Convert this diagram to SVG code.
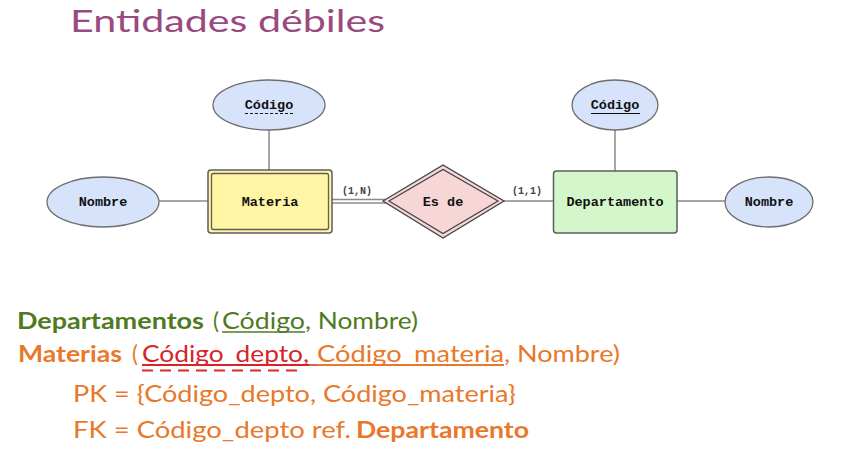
<svg xmlns="http://www.w3.org/2000/svg" width="841" height="450" viewBox="0 0 841 450">
<style>
.attr{fill:#d6e3fb;stroke:#6e6e6e;stroke-width:1.3}
.lbl{font-family:"Liberation Mono","DejaVu Sans Mono",monospace;font-weight:bold;font-size:13.5px;fill:#111;text-anchor:middle}
.card{font-family:"Liberation Mono","DejaVu Sans Mono",monospace;font-weight:bold;font-size:10px;fill:#444}
.conn{stroke:#8a8a8a;stroke-width:1.5;fill:none}
.rel{font-family:"Lato","Noto Sans",sans-serif;font-size:22.5px}
</style>
<rect width="841" height="450" fill="#ffffff"/>
<text x="70" y="32" font-family="Lato,'Noto Sans',sans-serif" font-size="31" fill="#9a4a7f" textLength="315" lengthAdjust="spacingAndGlyphs">Entidades débiles</text>

<g id="connectors">
<line class="conn" x1="269" y1="130" x2="269" y2="170"/>
<line class="conn" x1="159" y1="201" x2="208" y2="201"/>
<line class="conn" x1="332" y1="199.5" x2="386" y2="199.5"/>
<line class="conn" x1="332" y1="203" x2="386" y2="203"/>
<line class="conn" x1="504" y1="201" x2="554" y2="201"/>
<line class="conn" x1="615" y1="130" x2="615" y2="171"/>
<line class="conn" x1="677" y1="201" x2="725" y2="201"/>
<text class="card" x="342" y="194">(1,N)</text>
<text class="card" x="512" y="194">(1,1)</text>
</g>

<g id="codigo-materia">
<ellipse class="attr" cx="269" cy="105" rx="56" ry="25"/>
<text class="lbl" x="269" y="109">Código</text>
<line x1="245" y1="113.5" x2="294" y2="113.5" stroke="#111" stroke-width="1" stroke-dasharray="3,2"/>
</g>
<g id="nombre-materia">
<ellipse class="attr" cx="103" cy="202" rx="56" ry="25"/>
<text class="lbl" x="103" y="206">Nombre</text>
</g>
<g id="materia">
<rect x="208" y="170" width="124" height="63" rx="3" fill="#fff5a5" stroke="#5e5e5e" stroke-width="1.5"/>
<rect x="211.5" y="173.5" width="117" height="56" rx="2" fill="none" stroke="#5e5e5e" stroke-width="1.3"/>
<text class="lbl" x="270" y="206">Materia</text>
</g>
<g id="es-de">
<polygon points="383,201 443,165 504,201 443,238" fill="#f6d6d6" stroke="#444" stroke-width="1.3"/>
<polygon points="389,201 443,169.5 498,201 443,233.5" fill="none" stroke="#444" stroke-width="1.2"/>
<text class="lbl" x="443" y="206">Es de</text>
</g>
<g id="departamento">
<rect x="553.5" y="171" width="123.5" height="62" rx="3" fill="#d4f6cb" stroke="#5e5e5e" stroke-width="1.5"/>
<text class="lbl" x="615" y="206">Departamento</text>
</g>
<g id="codigo-depto">
<ellipse class="attr" cx="615" cy="105" rx="43" ry="25"/>
<text class="lbl" x="615" y="109">Código</text>
<line x1="591" y1="113.5" x2="640" y2="113.5" stroke="#111" stroke-width="1.2"/>
</g>
<g id="nombre-depto">
<ellipse class="attr" cx="769" cy="202" rx="44" ry="25"/>
<text class="lbl" x="769" y="206">Nombre</text>
</g>

<g id="relational">
<text class="rel" x="17" y="329" fill="#4f7a23" font-weight="bold" textLength="187" lengthAdjust="spacingAndGlyphs">Departamentos</text>
<text class="rel" x="213" y="329" fill="#4f7a23">(</text>
<text class="rel" x="222" y="329" fill="#4f7a23" textLength="83" lengthAdjust="spacingAndGlyphs">Código</text>
<line x1="222" y1="332" x2="305" y2="332" stroke="#4f7a23" stroke-width="1.6"/>
<text class="rel" x="305" y="329" fill="#4f7a23" textLength="113" lengthAdjust="spacingAndGlyphs">, Nombre)</text>

<text class="rel" x="18" y="362" fill="#e8782a" font-weight="bold" textLength="104" lengthAdjust="spacingAndGlyphs">Materias</text>
<text class="rel" x="132" y="362" fill="#e8782a">(</text>
<text class="rel" x="142" y="362" fill="#d8232a" textLength="167" lengthAdjust="spacingAndGlyphs">Código_depto,</text>
<line x1="142" y1="365" x2="309" y2="365" stroke="#d8232a" stroke-width="1.8"/>
<line x1="142" y1="370.5" x2="302" y2="370.5" stroke="#e0262b" stroke-width="2" stroke-dasharray="11,7"/>
<line x1="309" y1="365" x2="317" y2="365" stroke="#c4553a" stroke-width="1.8"/>
<text class="rel" x="317" y="362" fill="#e8782a" textLength="187" lengthAdjust="spacingAndGlyphs">Código_materia</text>
<line x1="317" y1="365" x2="504" y2="365" stroke="#e8782a" stroke-width="1.8"/>
<text class="rel" x="504" y="362" fill="#e8782a" textLength="116" lengthAdjust="spacingAndGlyphs">, Nombre)</text>

<text class="rel" x="73" y="402" fill="#e8782a" textLength="443" lengthAdjust="spacingAndGlyphs">PK = {Código_depto, Código_materia}</text>
<text class="rel" x="73" y="438" fill="#e8782a" textLength="278" lengthAdjust="spacingAndGlyphs">FK = Código_depto ref.</text>
<text class="rel" x="356" y="438" fill="#e8782a" font-weight="bold" textLength="173" lengthAdjust="spacingAndGlyphs">Departamento</text>
</g>
</svg>
